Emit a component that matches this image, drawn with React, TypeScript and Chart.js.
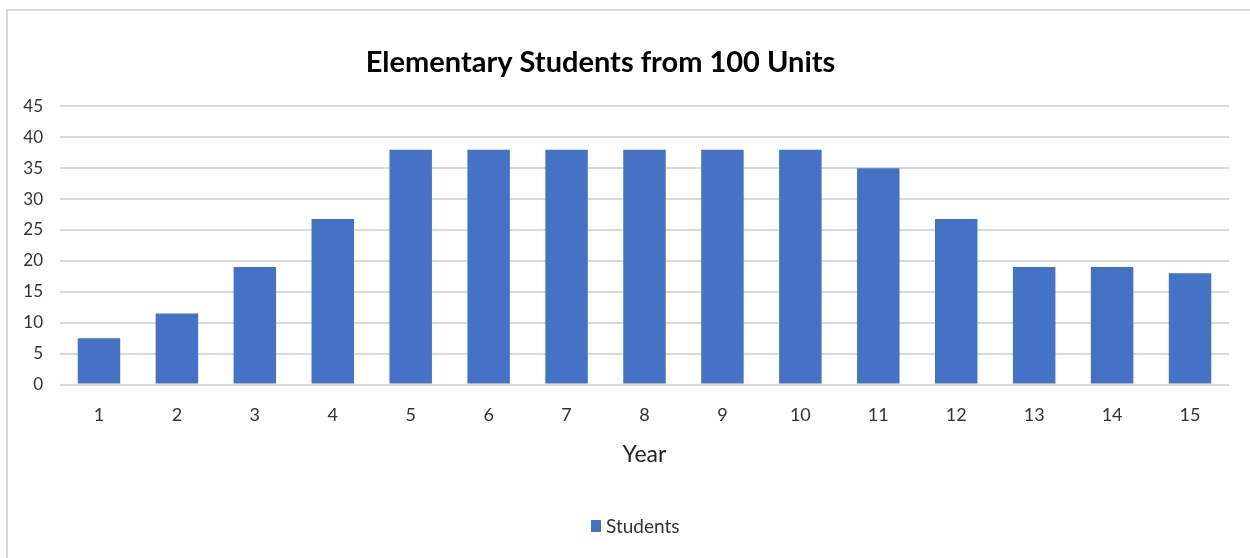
import React, { useEffect, useRef } from "react";
import { Chart, registerables } from "chart.js";

Chart.register(...registerables);

const categories: string[] = ["1", "2", "3", "4", "5", "6", "7", "8", "9", "10", "11", "12", "13", "14", "15"];
const students: number[] = [7.5, 11.5, 19, 26.8, 38, 38, 38, 38, 38, 38, 35, 26.8, 19, 19, 18];
const yTicks: number[] = [0, 5, 10, 15, 20, 25, 30, 35, 40, 45];
const chartTitle = "Elementary Students from 100 Units";
const seriesName = "Students";
const xAxisTitle = "Year";

const FONT = "Lato, 'Open Sans', sans-serif";
const W = 1250;
const H = 558;
const BAR_COLOR = "#4472C4";

const excelDecor = {
  id: "excelDecor",
  afterDraw(chart: any) {
    const ctx = chart.ctx;
    ctx.save();
    // Title, centered over the whole chart object
    ctx.fillStyle = "#000000";
    ctx.font = `bold 29px ${FONT}`;
    ctx.textAlign = "center";
    ctx.textBaseline = "middle";
    ctx.fillText(chartTitle, 600.5, 63);
    // Legend
    const ds = chart.data.datasets[0];
    ctx.font = `19px ${FONT}`;
    ctx.fillStyle = ds.backgroundColor;
    ctx.fillRect(591, 520, 10, 12);
    ctx.fillStyle = "#333333";
    ctx.textAlign = "left";
    ctx.fillText(ds.label, 606, 526.5);
    ctx.restore();
  },
};

export default function App() {
  const ref = useRef<HTMLCanvasElement | null>(null);

  useEffect(() => {
    if (!ref.current) return;
    const chart = new Chart(ref.current, {
      type: "bar",
      data: {
        labels: categories,
        datasets: [
          {
            label: seriesName,
            data: students,
            backgroundColor: BAR_COLOR,
            borderWidth: 0,
            barPercentage: 0.545,
            categoryPercentage: 1,
          },
        ],
      },
      plugins: [excelDecor],
      options: {
        animation: false,
        responsive: false,
        maintainAspectRatio: false,
        layout: { padding: { top: 106.4, left: 0, right: 21, bottom: 58 } },
        plugins: {
          title: { display: false },
          legend: { display: false },
          tooltip: { enabled: false },
        },
        scales: {
          x: {
            grid: { display: false },
            border: { display: false },
            ticks: {
              color: "#333333",
              font: { family: FONT, size: 18 },
              padding: 12,
            },
            title: {
              display: true,
              text: xAxisTitle,
              color: "#222222",
              font: { family: FONT, size: 23 },
              padding: { top: 0, bottom: 31.2 },
            },
            afterFit: (scale: any) => {
              scale.height = 115.5;
            },
          },
          y: {
            min: 0,
            max: 45,
            afterBuildTicks: (scale: any) => {
              scale.ticks = yTicks.map((v) => ({ value: v }));
            },
            grid: { color: "#d9d9d9", lineWidth: 2, drawTicks: false },
            border: { display: false },
            ticks: {
              color: "#333333",
              font: { family: FONT, size: 17 },
              padding: 17,
            },
            afterFit: (scale: any) => {
              scale.width = 60;
            },
          },
        },
      },
    });
    return () => chart.destroy();
  }, []);

  return (
    <div
      style={{
        position: "fixed",
        left: 0,
        top: 0,
        width: W,
        height: H,
        background: "#ffffff",
        overflow: "hidden",
      }}
    >
      <canvas ref={ref} width={W} height={H} style={{ position: "absolute", left: 0, top: 0, width: W, height: H }} />
      <div
        style={{
          position: "absolute",
          left: 6,
          top: 9,
          width: W,
          height: H,
          borderLeft: "2px solid #d9d9d9",
          borderTop: "2px solid #d9d9d9",
          pointerEvents: "none",
        }}
      />
    </div>
  );
}
